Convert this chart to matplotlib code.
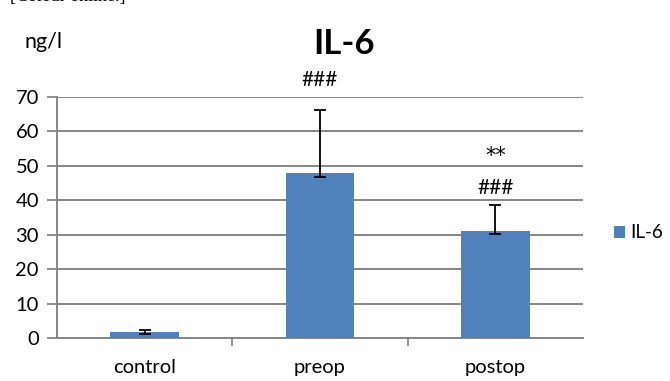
import matplotlib
matplotlib.use("Agg")
import matplotlib.pyplot as plt
import numpy as np

# data
groups = ["control", "preop", "postop"]
means = [1.8, 47.9, 31.1]
err_low = [0.6, 1.1, 1.0]
err_high = [0.5, 18.4, 7.6]
marks_top = ["", "###", "**"]
marks_mid = ["", "", "###"]
mark_top_y = [0, 75, 54]
mark_mid_y = [0, 0, 43.6]
yticks = [0, 10, 20, 30, 40, 50, 60, 70]

plt.rcParams["font.family"] = ["Lato", "DejaVu Sans"]
grey = "#868686"
blue = "#4F81BD"

fig = plt.figure(figsize=(6.7, 3.81), dpi=100)
ax = fig.add_axes([57 / 670, 43 / 381, 526 / 670, 241 / 381])

x = np.arange(len(groups))
ax.bar(x, means, width=0.39, color=blue, zorder=3, label="IL-6")
ax.errorbar(x, means, yerr=[err_low, err_high], fmt="none", ecolor="black",
            elinewidth=1.3, capsize=4.5, capthick=1.3, zorder=4)

for xi, t, yv in zip(x, marks_top, mark_top_y):
    if t == "**":
        ax.text(xi, yv - 1, t, ha="center", va="center", fontsize=15,
                family="DejaVu Sans", clip_on=False)
    elif t:
        ax.text(xi, yv, t, ha="center", va="center", fontsize=15, clip_on=False)
for xi, t, yv in zip(x, marks_mid, mark_mid_y):
    if t:
        ax.text(xi, yv, t, ha="center", va="center", fontsize=15, clip_on=False)

ax.set_xlim(-0.5, 2.5)
ax.set_ylim(0, 70)
ax.set_yticks(yticks)
ax.yaxis.grid(True, color=grey, linewidth=1.4, zorder=0)
ax.set_axisbelow(True)
ax.set_xticks(x)
ax.set_xticklabels(groups)
ax.set_xticks([0.5, 1.5], minor=True)
ax.tick_params(axis="x", which="major", length=0, pad=15, labelsize=14.5)
ax.tick_params(axis="x", which="minor", length=6, width=1.3, color=grey, direction="out")
ax.tick_params(axis="y", length=7, width=1.3, color=grey, direction="out", pad=6, labelsize=14.5)

for s in ["top", "right"]:
    ax.spines[s].set_visible(False)
for s in ["left", "bottom"]:
    ax.spines[s].set_color(grey)
    ax.spines[s].set_linewidth(1.4)

fig.text(344 / 670, 1 - 44 / 381, "IL-6", ha="center", va="center",
         fontsize=25, fontweight="bold")
fig.text(44 / 670, 1 - 42 / 381, "ng/l", ha="center", va="center", fontsize=15.5)
fig.text(10 / 670, 1 - 1 / 381, "[Colour online.]", ha="left", va="baseline",
         fontsize=13, family="Liberation Serif")

ax.legend(loc="center left", bbox_to_anchor=(614 / 670, 1 - 233 / 381),
          bbox_transform=fig.transFigure, frameon=False, fontsize=13.5,
          handlelength=0.6, handleheight=0.6, handletextpad=0.25, borderpad=0,
          borderaxespad=0)

fig.savefig("out.png", dpi=100)
